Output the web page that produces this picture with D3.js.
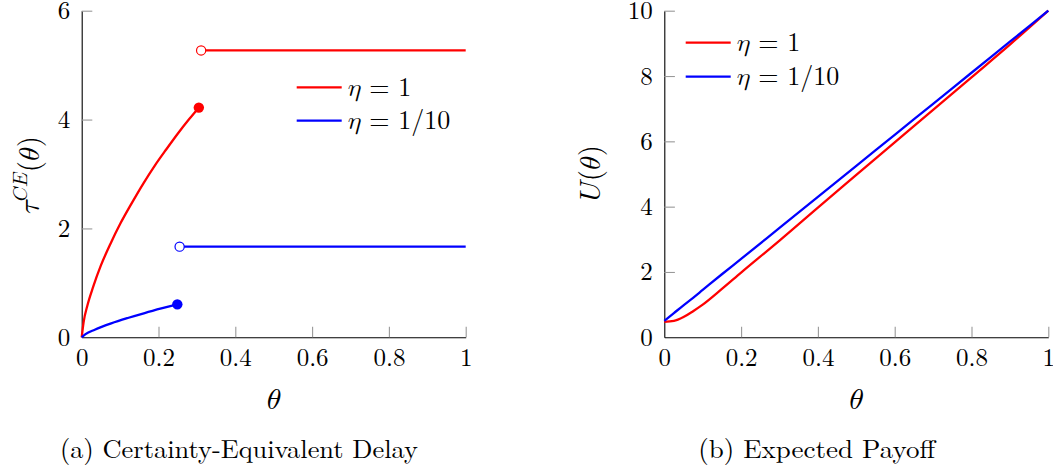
<!DOCTYPE html>
<html>
<head>
<meta charset="utf-8">
<script src="https://cdn.jsdelivr.net/npm/d3@7"></script>
<style>
  body { margin: 0; background: #fff; }
</style>
</head>
<body>
<svg id="chart" width="1053" height="469"></svg>
<script>
/*********** DONNEES ***********/

// (a) delai equivalent certain, eta = 1
const thetaRedCE = [0, 0.005, 0.015, 0.03, 0.05, 0.075, 0.1, 0.13, 0.16, 0.19, 0.22, 0.25, 0.28, 0.305]
const tauRedCE = [0, 0.28, 0.59, 0.93, 1.32, 1.72, 2.08, 2.46, 2.82, 3.15, 3.45, 3.74, 4.01, 4.22]
const redJump = { theta: 0.311, tau: 5.27 }

// (a) eta = 1/10
const thetaBlueCE = [0, 0.01, 0.034, 0.077, 0.12, 0.164, 0.21, 0.249]
const tauBlueCE = [0, 0.058, 0.14, 0.257, 0.355, 0.446, 0.534, 0.605]
const blueJump = { theta: 0.255, tau: 1.665 }

// (b) gain espere
const thetaU = [0, 0.025, 0.05, 0.075, 0.1, 0.15, 0.2, 0.3, 0.4, 0.5, 0.6, 0.7, 0.8, 0.9, 1]
const uRed = [0.47, 0.5, 0.62, 0.8, 1.0, 1.48, 1.98, 2.96, 3.97, 4.97, 5.97, 6.96, 7.96, 8.96, 10]
const uBlue = [0.5, 0.74, 0.98, 1.21, 1.45, 1.93, 2.4, 3.35, 4.3, 5.25, 6.2, 7.15, 8.1, 9.05, 10]

const xTicks = [0, 0.2, 0.4, 0.6, 0.8, 1]
const yTicksA = [0, 2, 4, 6]
const yTicksB = [0, 2, 4, 6, 8, 10]
const legendLabels = ["1", "1/10"]
const captions = ["(a) Certainty-Equivalent Delay", "(b) Expected Payoff"]

/*********** GRAPHIQUES ***********/

const svg = d3.select("#chart")
const ROMAN = "'Latin Modern Roman'"
const MATH = "'Latin Modern Math'"
const FS = 25
const RED = "#ff0000", BLUE = "#0000ff"

// lettres en italique mathematique
const ETA = "\u{1D702}", THETA = "\u{1D703}", TAU = "\u{1D70F}"
const U_IT = "\u{1D448}", C_IT = "\u{1D436}", E_IT = "\u{1D438}"

function roman(sel) {
    return sel.attr("font-family", ROMAN).style("font-family", ROMAN)
}

function fmtX(d) {
    if (d === 0) return "0"
    if (d === 1) return "1"
    return d3.format(".1f")(d)
}

function makePanel(left, right, yMax, yTicks) {
    let x = d3.scaleLinear().domain([0, 1]).range([left, right])
    let y = d3.scaleLinear().domain([0, yMax]).range([337.3, 10.7])

    let gx = svg.append("g")
        .attr("transform", "translate(0,337.3)")
        .call(d3.axisBottom(x).tickValues(xTicks).tickFormat(fmtX)
            .tickSize(-10.6).tickSizeOuter(0).tickPadding(10.5))
    let gy = svg.append("g")
        .attr("transform", "translate(" + left + ",0)")
        .call(d3.axisLeft(y).tickValues(yTicks).tickFormat(d3.format("d"))
            .tickSize(-10.6).tickSizeOuter(0).tickPadding(11.5))

    for (const g of [gx, gy]) {
        roman(g)
        g.selectAll(".domain").attr("stroke", "#000").attr("stroke-width", 1.1)
        g.selectAll(".tick line").attr("stroke", "#999").attr("stroke-width", 1.1)
        roman(g.selectAll(".tick text")).style("font-size", FS + "px")
    }
    // the tick at 0 sits on the other axis
    gx.selectAll(".tick").filter(d => d === 0).select("line").remove()
    gy.selectAll(".tick").filter(d => d === 0).select("line").remove()
    gx.raise()
    return { x, y }
}

function curve(sc, xs, ys, color) {
    let line = d3.line()
        .x((d, i) => sc.x(xs[i]))
        .y((d, i) => sc.y(ys[i]))
        .curve(d3.curveMonotoneX)
    svg.append("path")
        .datum(xs)
        .attr("d", line)
        .attr("fill", "none")
        .attr("stroke", color)
        .attr("stroke-width", 2.3)
}

function jump(sc, endTheta, endTau, jmp, color) {
    svg.append("line")
        .attr("x1", sc.x(jmp.theta)).attr("x2", sc.x(1))
        .attr("y1", sc.y(jmp.tau)).attr("y2", sc.y(jmp.tau))
        .attr("stroke", color).attr("stroke-width", 2.3)
    svg.append("circle")
        .attr("cx", sc.x(endTheta)).attr("cy", sc.y(endTau)).attr("r", 5.2)
        .attr("fill", color)
    svg.append("circle")
        .attr("cx", sc.x(jmp.theta)).attr("cy", sc.y(jmp.tau)).attr("r", 4.6)
        .attr("fill", "#fff").attr("stroke", color).attr("stroke-width", 1.2)
}

function mathSpan(t, s) {
    return t.append("tspan").attr("font-family", MATH).style("font-family", MATH).text(s)
}

function legend(x0, y0, gap) {
    [RED, BLUE].forEach((c, i) => {
        let yy = y0 + i * gap
        svg.append("line")
            .attr("x1", x0).attr("x2", x0 + 45)
            .attr("y1", yy).attr("y2", yy)
            .attr("stroke", c).attr("stroke-width", 2.3)
        let t = roman(svg.append("text"))
            .attr("x", x0 + 51).attr("y", yy + 8.5)
            .style("font-size", "26px")
        mathSpan(t, ETA)
        t.append("tspan").text(" = " + legendLabels[i])
    })
}

function thetaLabel(cx) {
    let t = roman(svg.append("text"))
        .attr("x", cx).attr("y", 409)
        .attr("text-anchor", "middle")
        .style("font-size", "30px")
    mathSpan(t, THETA)
}

function caption(cx, s, w) {
    roman(svg.append("text"))
        .attr("x", cx).attr("y", 458)
        .attr("text-anchor", "middle")
        .attr("textLength", w)
        .attr("lengthAdjust", "spacingAndGlyphs")
        .style("font-size", "26px")
        .text(s)
}

/***** panneau (a) *****/
let a = makePanel(81.7, 465.7, 6, yTicksA)
curve(a, thetaRedCE, tauRedCE, RED)
curve(a, thetaBlueCE, tauBlueCE, BLUE)
jump(a, thetaRedCE[thetaRedCE.length - 1], tauRedCE[tauRedCE.length - 1], redJump, RED)
jump(a, thetaBlueCE[thetaBlueCE.length - 1], tauBlueCE[tauBlueCE.length - 1], blueJump, BLUE)
legend(296.7, 87.3, 33.4)
thetaLabel(273.7)
caption(239, captions[0], 358)

let ylA = roman(svg.append("text"))
    .attr("transform", "translate(39,175) rotate(-90)")
    .attr("text-anchor", "middle")
    .style("font-size", "29px")
mathSpan(ylA, TAU)
mathSpan(ylA, C_IT + E_IT).attr("dy", -12).style("font-size", "20px")
ylA.append("tspan").attr("dy", 12).text("(")
mathSpan(ylA, THETA)
ylA.append("tspan").text(")")

/***** panneau (b) *****/
let b = makePanel(664.3, 1048.3, 10, yTicksB)
curve(b, thetaU, uRed, RED)
curve(b, thetaU, uBlue, BLUE)
legend(685.7, 42.7, 34)
thetaLabel(856.3)
caption(816.7, captions[1], 237)

let ylB = roman(svg.append("text"))
    .attr("transform", "translate(600,173) rotate(-90)")
    .attr("text-anchor", "middle")
    .style("font-size", "29px")
mathSpan(ylB, U_IT)
ylB.append("tspan").text("(")
mathSpan(ylB, THETA)
ylB.append("tspan").text(")")
</script>
</body>
</html>
